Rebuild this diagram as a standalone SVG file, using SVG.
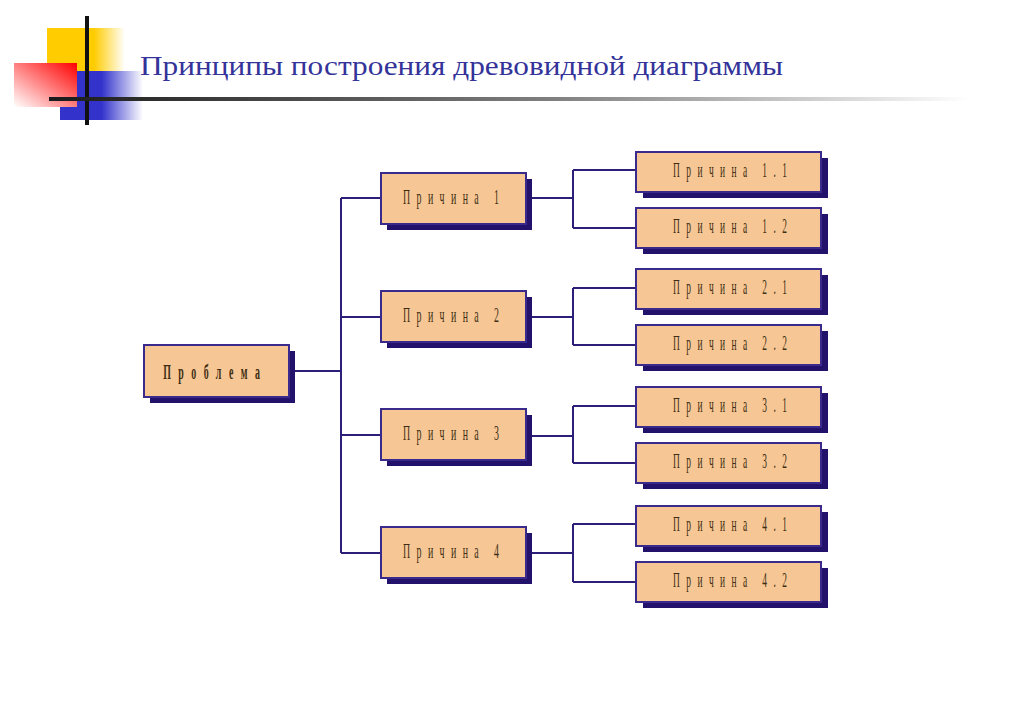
<svg xmlns="http://www.w3.org/2000/svg" width="1024" height="709" viewBox="0 0 1024 709">
<defs>
<linearGradient id="gY" x1="0" y1="0" x2="1" y2="0"><stop offset="0" stop-color="#ffcc00"/><stop offset="0.6" stop-color="#ffcc00"/><stop offset="1" stop-color="#ffffff"/></linearGradient>
<linearGradient id="gR" x1="0" y1="1" x2="1" y2="0"><stop offset="0" stop-color="#ffffff"/><stop offset="1" stop-color="#ff0000"/></linearGradient>
<linearGradient id="gB" x1="0" y1="0" x2="1" y2="0"><stop offset="0" stop-color="#3333cc"/><stop offset="0.5" stop-color="#3333cc"/><stop offset="1" stop-color="#ffffff"/></linearGradient>
<linearGradient id="gL" gradientUnits="userSpaceOnUse" x1="49" y1="0" x2="970" y2="0"><stop offset="0" stop-color="#1a1a1a"/><stop offset="0.55" stop-color="#808080"/><stop offset="1" stop-color="#ffffff"/></linearGradient>
<style>
.box{fill:#f6c794;stroke:#3a2a8c;stroke-width:2}
.sh{fill:#23126b}
.lbl{font-family:"Liberation Serif","Times New Roman",serif;font-size:21px;fill:#3e2e14;text-anchor:middle}
.big{font-size:22px}
.bold{font-weight:bold}
.con{fill:none;stroke:#2b1f7a;stroke-width:2}
.title{font-family:"Liberation Serif","Times New Roman",serif;font-size:27px;fill:#333399}
</style>
</defs>
<rect width="1024" height="709" fill="#ffffff"/>
<g id="header">
<rect x="47" y="28" width="78" height="70" fill="url(#gY)"/>
<rect x="60" y="71" width="83" height="49" fill="url(#gB)"/>
<rect x="14" y="63" width="63" height="44" fill="url(#gR)"/>
<rect x="85" y="16" width="4" height="109" fill="#111111"/>
<rect x="49" y="97" width="921" height="4" fill="url(#gL)"/>
<text class="title" x="140" y="75" textLength="643" lengthAdjust="spacingAndGlyphs">Принципы построения древовидной диаграммы</text>
</g>
<g id="connectors">
<path class="con" d="M289 371H341M341 198V553M341 198H381M341 317H381M341 435H381M341 553H381"/>
<path class="con" d="M526 198H573M573 170V228M573 170H636M573 228H636"/>
<path class="con" d="M526 317H573M573 288V345M573 288H636M573 345H636"/>
<path class="con" d="M526 436H573M573 406V463M573 406H636M573 463H636"/>
<path class="con" d="M526 553H573M573 524V582M573 524H636M573 582H636"/>
</g>
<g id="problem">
<rect class="sh" x="150" y="351" width="145" height="52"/>
<rect class="box" x="144" y="345" width="145" height="52"/>
<text class="lbl big bold" transform="translate(211.5 379) scale(0.45 1)" textLength="215" lengthAdjust="spacing">Проблема</text>
</g>
<g id="cause1">
<rect class="sh" x="387" y="179" width="145" height="51"/>
<rect class="box" x="381" y="173" width="145" height="51"/>
<text class="lbl big" transform="translate(451 204) scale(0.45 1)" textLength="213" lengthAdjust="spacing">Причина 1</text>
</g>
<g id="cause2">
<rect class="sh" x="387" y="297" width="145" height="51"/>
<rect class="box" x="381" y="291" width="145" height="51"/>
<text class="lbl big" transform="translate(451 322) scale(0.45 1)" textLength="213" lengthAdjust="spacing">Причина 2</text>
</g>
<g id="cause3">
<rect class="sh" x="387" y="415" width="145" height="51"/>
<rect class="box" x="381" y="409" width="145" height="51"/>
<text class="lbl big" transform="translate(451 440) scale(0.45 1)" textLength="213" lengthAdjust="spacing">Причина 3</text>
</g>
<g id="cause4">
<rect class="sh" x="387" y="533" width="145" height="51"/>
<rect class="box" x="381" y="527" width="145" height="51"/>
<text class="lbl big" transform="translate(451 558) scale(0.45 1)" textLength="213" lengthAdjust="spacing">Причина 4</text>
</g>
<g id="cause1-1">
<rect class="sh" x="643" y="158" width="185" height="40"/>
<rect class="box" x="636" y="152" width="185" height="40"/>
<text class="lbl" transform="translate(730 177) scale(0.45 1)" textLength="253" lengthAdjust="spacing">Причина 1.1</text>
</g>
<g id="cause1-2">
<rect class="sh" x="643" y="214" width="185" height="40"/>
<rect class="box" x="636" y="208" width="185" height="40"/>
<text class="lbl" transform="translate(730 233) scale(0.45 1)" textLength="253" lengthAdjust="spacing">Причина 1.2</text>
</g>
<g id="cause2-1">
<rect class="sh" x="643" y="275" width="185" height="40"/>
<rect class="box" x="636" y="269" width="185" height="40"/>
<text class="lbl" transform="translate(730 294) scale(0.45 1)" textLength="253" lengthAdjust="spacing">Причина 2.1</text>
</g>
<g id="cause2-2">
<rect class="sh" x="643" y="331" width="185" height="40"/>
<rect class="box" x="636" y="325" width="185" height="40"/>
<text class="lbl" transform="translate(730 350) scale(0.45 1)" textLength="253" lengthAdjust="spacing">Причина 2.2</text>
</g>
<g id="cause3-1">
<rect class="sh" x="643" y="393" width="185" height="40"/>
<rect class="box" x="636" y="387" width="185" height="40"/>
<text class="lbl" transform="translate(730 412) scale(0.45 1)" textLength="253" lengthAdjust="spacing">Причина 3.1</text>
</g>
<g id="cause3-2">
<rect class="sh" x="643" y="449" width="185" height="40"/>
<rect class="box" x="636" y="443" width="185" height="40"/>
<text class="lbl" transform="translate(730 468) scale(0.45 1)" textLength="253" lengthAdjust="spacing">Причина 3.2</text>
</g>
<g id="cause4-1">
<rect class="sh" x="643" y="512" width="185" height="40"/>
<rect class="box" x="636" y="506" width="185" height="40"/>
<text class="lbl" transform="translate(730 531) scale(0.45 1)" textLength="253" lengthAdjust="spacing">Причина 4.1</text>
</g>
<g id="cause4-2">
<rect class="sh" x="643" y="568" width="185" height="40"/>
<rect class="box" x="636" y="562" width="185" height="40"/>
<text class="lbl" transform="translate(730 587) scale(0.45 1)" textLength="253" lengthAdjust="spacing">Причина 4.2</text>
</g>
</svg>
